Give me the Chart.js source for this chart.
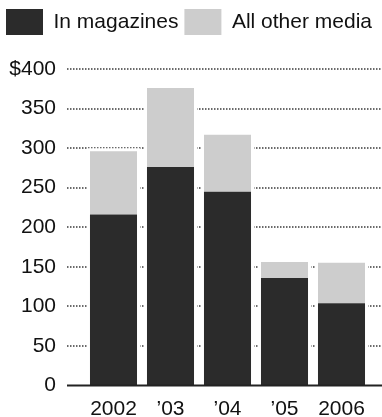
<!DOCTYPE html>
<html>
<head>
<meta charset="utf-8">
<script src="https://cdn.jsdelivr.net/npm/chart.js@4/dist/chart.umd.min.js"></script>
<style>
  html, body { margin: 0; padding: 0; background: #fff; }
</style>
</head>
<body>
<canvas id="chart" width="382" height="417"></canvas>
<script>
// Data
var years = ['2002', '\u201903', '\u201904', '\u201905', '2006'];
var magazines = [216, 276, 245, 136, 104];
var otherMedia = [80, 100, 72, 20, 51];
var yTicks = [0, 50, 100, 150, 200, 250, 300, 350, 400];
var yTickLabels = ['0', '50', '100', '150', '200', '250', '300', '350', '$400'];

var colors = {
  dark: '#2b2b2b',
  light: '#cdcdcd',
  text: '#111111',
  grid: '#3a3a3a'
};
var font = 'Liberation Sans, Arial, Helvetica, sans-serif';

// dotted grid lines behind the bars, with a white gap round each bar
var gridPlugin = {
  id: 'dottedGrid',
  beforeDatasetsDraw: function(chart) {
    var ctx = chart.ctx;
    var yScale = chart.scales.y;
    var left = chart.chartArea.left - 18;
    ctx.save();
    ctx.strokeStyle = colors.grid;
    ctx.lineWidth = 1.5;
    ctx.setLineDash([1.5, 1.5]);
    yTicks.forEach(function(v) {
      if (v === 0) return;
      var py = Math.round(yScale.getPixelForValue(v));
      ctx.beginPath();
      ctx.moveTo(left, py);
      ctx.lineTo(chart.width, py);
      ctx.stroke();
    });
    ctx.restore();

    var top = chart.getDatasetMeta(1).data;
    var bottom = chart.getDatasetMeta(0).data;
    ctx.save();
    ctx.fillStyle = '#ffffff';
    top.forEach(function(bar, i) {
      var w = bar.width;
      var base = bottom[i].base;
      ctx.fillRect(bar.x - w / 2 - 3, bar.y - 3, w + 6, base - bar.y + 3);
    });
    ctx.restore();
  },
  afterDatasetsDraw: function(chart) {
    var ctx = chart.ctx;
    var py = chart.scales.y.getPixelForValue(0);
    ctx.save();
    ctx.strokeStyle = '#222';
    ctx.lineWidth = 2;
    ctx.beginPath();
    ctx.moveTo(chart.chartArea.left - 18, py);
    ctx.lineTo(chart.width, py);
    ctx.stroke();
    ctx.restore();
  }
};

// legend takes the whole width and leaves room above the plot
var legendSpace = {
  id: 'legendSpace',
  afterInit: function(chart) {
    var legend = chart.legend;
    var fit = legend.fit;
    legend.fit = function() {
      this.maxWidth = chart.width;
      fit.call(this);
      this.height = 66;
    };
  },
  afterLayout: function(chart) {
    chart.legend.right = chart.width;
    chart.legend.width = chart.width - chart.legend.left;
  }
};

var ctx = document.getElementById('chart').getContext('2d');
var chart = new Chart(ctx, {
  type: 'bar',
  data: {
    labels: years,
    datasets: [
      {
        label: 'In magazines',
        data: magazines,
        backgroundColor: colors.dark,
        borderWidth: 0,
        categoryPercentage: 1,
        barPercentage: 0.825
      },
      {
        label: 'All other media',
        data: otherMedia,
        backgroundColor: colors.light,
        borderWidth: 0,
        categoryPercentage: 1,
        barPercentage: 0.825
      }
    ]
  },
  options: {
    responsive: false,
    animation: false,
    devicePixelRatio: 1,
    layout: { padding: { top: 3, right: 12, left: 0, bottom: 0 } },
    plugins: {
      legend: {
        position: 'top',
        align: 'start',
        labels: {
          boxWidth: 37,
          boxHeight: 26,
          padding: 6,
          color: colors.text,
          font: { family: font, size: 21 }
        }
      },
      tooltip: { enabled: false }
    },
    scales: {
      x: {
        stacked: true,
        grid: { display: false, drawTicks: false },
        border: { display: false },
        ticks: {
          color: colors.text,
          padding: 11,
          font: { family: font, size: 21 }
        },
        afterFit: function(scale) { scale.height = 31.5; }
      },
      y: {
        stacked: true,
        min: 0,
        max: 400,
        grid: { display: false, drawTicks: false },
        border: { display: false },
        afterBuildTicks: function(scale) {
          scale.ticks = yTicks.map(function(v) { return { value: v }; });
        },
        ticks: {
          color: colors.text,
          padding: 29,
          font: { family: font, size: 21 },
          callback: function(value, index) { return yTickLabels[index]; }
        },
        afterFit: function(scale) {
          scale.width = 85;
          scale.paddingTop = 0;
          scale.paddingBottom = 0;
        }
      }
    }
  },
  plugins: [gridPlugin, legendSpace]
});
</script>
</body>
</html>
